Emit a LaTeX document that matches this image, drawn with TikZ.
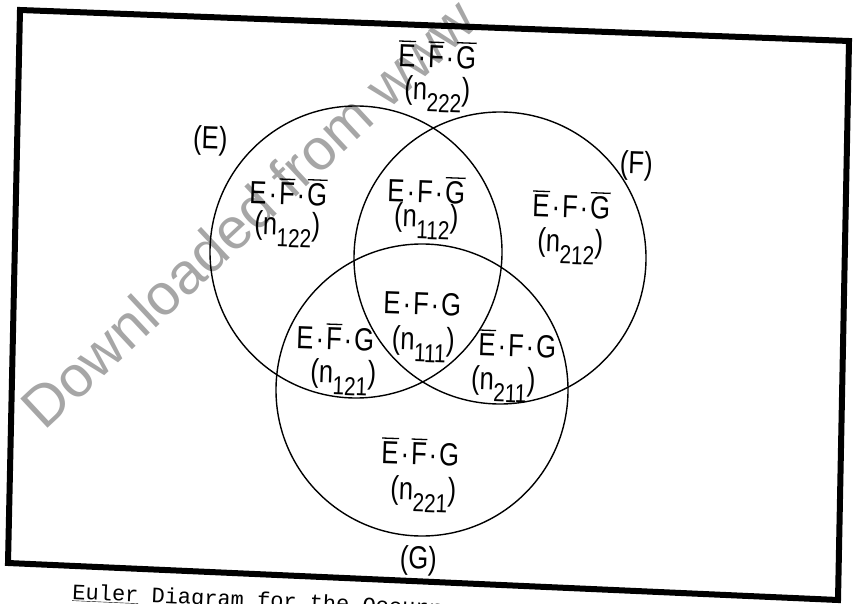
\documentclass[tikz,border=0pt]{standalone}
\usepackage{fontspec}
\setmainfont{Liberation Sans}
\setmonofont{Liberation Mono}
\newfontfamily\lettering[FakeStretch=0.8]{Liberation Sans}
\usepackage{tikz}

\newcommand{\bnot}[1]{\vbox{\hrule height 1.3pt\kern 3pt\hbox{#1}}}
\newcommand{\nsub}[1]{n\raisebox{-12pt}{\fontsize{26}{26}\selectfont #1}}
\newcommand{\dotsep}{\kern2pt·\kern2pt}

\begin{document}
\begin{tikzpicture}[x=1pt, y=-1pt,
        expr/.style={anchor=base, rotate=-2, inner sep=0pt, font=\lettering\fontsize{32}{34}\selectfont},
        cnt/.style={anchor=base, rotate=-2, inner sep=0pt, font=\lettering\fontsize{32}{34}\selectfont},
        setc/.style={line width=1.4pt}]
    \useasboundingbox (0,0) rectangle (853,604);
    % watermark
    \node[anchor=base west, rotate=43, text=black!35, font=\fontsize{58}{58}\selectfont] (wm) at (42,434) {Downloaded from www};
    % frame
    \draw[line width=6pt, line join=miter] (20,10) -- (849,41) -- (838,600) -- (8,563) -- cycle;
    % the three sets
    \coordinate (cE) at (356,252);
    \coordinate (cF) at (500,258);
    \coordinate (cG) at (422,390);
    \draw[setc] (cE) circle[radius=146];
    \draw[setc] (cF) circle[radius=146];
    \draw[setc] (cG) circle[radius=146];
    \node[expr] (setE) at (210,149) {(E)};
    \node[expr] (setF) at (636,174) {(F)};
    \node[expr] (setG) at (418,569) {(G)};
    % regions
    \node[expr] (r222) at (437,68) {\bnot{E}\dotsep\bnot{F}\dotsep\bnot{G}};
    \node[cnt] (n222) at (437,100) {(\nsub{222})};
    \node[expr] (r122) at (288,205) {E\dotsep\bnot{F}\dotsep\bnot{G}};
    \node[cnt] (n122) at (287,235) {(\nsub{122})};
    \node[expr] (r112) at (426,203) {E\dotsep F\dotsep\bnot{G}};
    \node[cnt] (n112) at (426,227) {(\nsub{112})};
    \node[expr] (r212) at (571,218) {\bnot{E}\dotsep F\dotsep\bnot{G}};
    \node[cnt] (n212) at (570,252) {(\nsub{212})};
    \node[expr] (r111) at (422,315) {E\dotsep F\dotsep G};
    \node[cnt] (n111) at (423,350) {(\nsub{111})};
    \node[expr] (r121) at (335,350) {E\dotsep\bnot{F}\dotsep G};
    \node[cnt] (n121) at (343,383) {(\nsub{121})};
    \node[expr] (r211) at (517,357) {\bnot{E}\dotsep F\dotsep G};
    \node[cnt] (n211) at (503,390) {(\nsub{211})};
    \node[expr] (r221) at (420,465) {\bnot{E}\dotsep\bnot{F}\dotsep G};
    \node[cnt] (n221) at (423,500) {(\nsub{221})};
    % caption
    \node[anchor=base west, rotate=-2.6, inner sep=0pt, font=\ttfamily\fontsize{22}{22}\selectfont] (cap) at (72,599) {\underline{Euler} Diagram for the Occurr};
\end{tikzpicture}
\end{document}
